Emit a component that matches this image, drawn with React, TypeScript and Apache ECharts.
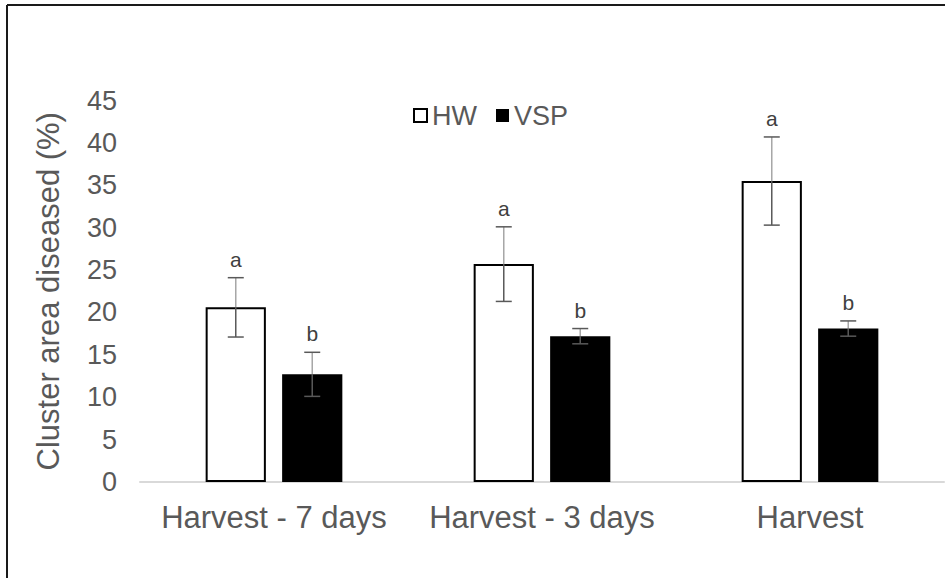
import React, { useEffect, useRef } from "react";
import * as echarts from "echarts";

// Cluster area diseased (%) by sampling time, HW vs VSP training systems
const categories = ["Harvest - 7 days", "Harvest - 3 days", "Harvest"];
const hwMeans = [20.6, 25.7, 35.5];
const hwErrors = [3.5, 4.4, 5.2];
const hwLetters = ["a", "a", "a"];
const vspMeans = [12.7, 17.2, 18.1];
const vspErrors = [2.6, 0.9, 0.9];
const vspLetters = ["b", "b", "b"];
const yMax = 45;
const yStep = 5;

const FONT = "'Liberation Sans', Arial, sans-serif";
const CAT_GAP = 0.49;
const BAR_GAP = 0.27;

function errorSeries(means: number[], errs: number[], letters: string[], side: number) {
  return {
    type: "custom",
    z: 5,
    silent: true,
    data: means.map((m, i) => [i, m, errs[i]]),
    renderItem: (params: any, api: any) => {
      const c = api.value(0);
      const m = api.value(1);
      const e = api.value(2);
      const cw = api.size([1, 0])[0];
      const bw = (cw * (1 - CAT_GAP)) / (2 + BAR_GAP);
      const off = ((bw * (1 + BAR_GAP)) / 2) * side;
      const top = api.coord([c, m + e]);
      const mid = api.coord([c, m]);
      const bot = api.coord([c, m - e]);
      const x = top[0] + off;
      const half = 8;
      const dark = { stroke: "#595959", lineWidth: 1.5 };
      return {
        type: "group",
        children: [
          { type: "line", shape: { x1: x, y1: top[1], x2: x, y2: mid[1] }, style: { stroke: "#a6a6a6", lineWidth: 1.5 } },
          { type: "line", shape: { x1: x, y1: mid[1], x2: x, y2: bot[1] }, style: dark },
          { type: "line", shape: { x1: x - half, y1: top[1], x2: x + half, y2: top[1] }, style: dark },
          { type: "line", shape: { x1: x - half, y1: bot[1], x2: x + half, y2: bot[1] }, style: dark },
          {
            type: "text",
            x,
            y: top[1] - 8,
            style: {
              text: letters[params.dataIndex],
              fill: "#404040",
              font: `21px ${FONT}`,
              align: "center",
              verticalAlign: "bottom",
            },
          },
        ],
      };
    },
  };
}

export default function App() {
  const ref = useRef<HTMLDivElement>(null);

  useEffect(() => {
    if (!ref.current) return;
    const chart = echarts.init(ref.current, undefined, { renderer: "svg" });
    chart.setOption({
      animation: false,
      backgroundColor: "#ffffff",
      textStyle: { fontFamily: FONT },
      grid: { left: 140, right: 1, top: 100.5, bottom: 96, containLabel: false },
      legend: {
        data: ["HW", "VSP"],
        left: 408,
        top: 97,
        itemWidth: 13,
        itemHeight: 13,
        itemGap: 19,
        icon: "rect",
        textStyle: { fontSize: 27, color: "#595959", fontFamily: FONT },
      },
      xAxis: {
        type: "category",
        data: categories,
        axisLine: { show: true, lineStyle: { color: "#d9d9d9", width: 2 } },
        axisTick: { show: false },
        axisLabel: { interval: 0, fontSize: 31, color: "#595959", margin: 20, fontFamily: FONT },
      },
      yAxis: {
        type: "value",
        min: 0,
        max: yMax,
        interval: yStep,
        name: "Cluster area diseased (%)",
        nameLocation: "middle",
        nameGap: 76,
        nameTextStyle: { fontSize: 31, color: "#595959", fontFamily: FONT },
        splitLine: { show: false },
        axisLine: { show: false },
        axisTick: { show: false },
        axisLabel: { fontSize: 27, color: "#595959", margin: 23, fontFamily: FONT },
      },
      series: [
        {
          name: "HW",
          type: "bar",
          data: hwMeans,
          barGap: `${BAR_GAP * 100}%`,
          barCategoryGap: `${CAT_GAP * 100}%`,
          itemStyle: { color: "#ffffff", borderColor: "#000000", borderWidth: 2 },
        },
        {
          name: "VSP",
          type: "bar",
          data: vspMeans,
          barGap: `${BAR_GAP * 100}%`,
          barCategoryGap: `${CAT_GAP * 100}%`,
          itemStyle: { color: "#000000" },
        },
        errorSeries(hwMeans, hwErrors, hwLetters, -1),
        errorSeries(vspMeans, vspErrors, vspLetters, 1),
      ],
      graphic: [
        { type: "line", shape: { x1: 7, y1: 5, x2: 945, y2: 5 }, style: { stroke: "#1a1a1a", lineWidth: 2 } },
        { type: "line", shape: { x1: 7, y1: 5, x2: 7, y2: 578 }, style: { stroke: "#1a1a1a", lineWidth: 2 } },
      ],
    });
    return () => chart.dispose();
  }, []);

  return (
    <div
      ref={ref}
      style={{ position: "fixed", left: 0, top: 0, width: 945, height: 578, background: "#fff" }}
    />
  );
}
